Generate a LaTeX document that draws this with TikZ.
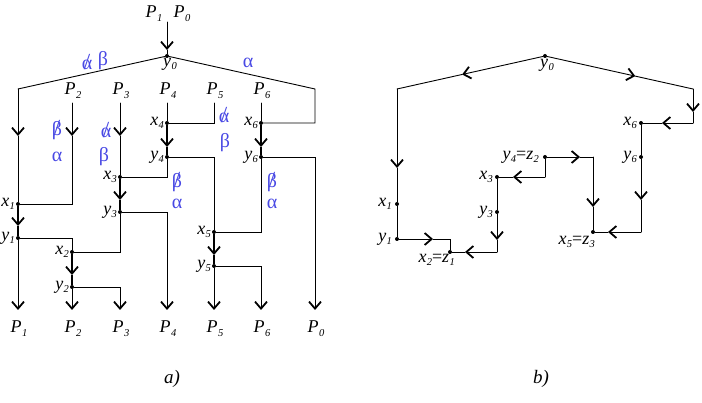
\documentclass[tikz,border=0pt]{standalone}
\usepackage{fontspec}
\setmainfont{Liberation Serif}
\usetikzlibrary{arrows.meta,calc}
\definecolor{greekblue}{RGB}{72,72,228}
\newsavebox\neggbox
\newcommand\lbl[2]{\textit{#1}\kern0.3pt\raisebox{-0.4ex}{\fontsize{10.5}{11}\selectfont\textit{#2}}}
\newcommand\negg[1]{\sbox\neggbox{#1}\rlap{\usebox\neggbox}\hbox to\wd\neggbox{\hss\raisebox{-0.05ex}{\fontsize{23}{23}\selectfont /}\hss}}
\begin{document}
\begin{tikzpicture}[x=1pt,y=-1pt,
  wire/.style={line width=0.9pt,line cap=round},
  boldwire/.style={line width=2.8pt},
  tipend/.style={-{Straight Barb[length=7pt,width=12pt,line width=1.8pt]}},
  lab/.style={font=\fontsize{18}{20}\selectfont, inner sep=0pt},
  gr/.style={text=greekblue, font=\fontsize{20}{22}\selectfont, inner sep=0pt},
  dot/.style={circle, fill, inner sep=0pt, minimum size=4pt},
  captxt/.style={font=\fontsize{19}{21}\selectfont\itshape, inner sep=0pt}
]
\useasboundingbox (0,0) rectangle (702,403);

% ---------------- part a ----------------
\node[dot] (y0a) at (167,56) {};
\node[dot] (x1a) at (18,204) {};
\node[dot] (y1a) at (18,238) {};
\node[dot] (x2a) at (72,252) {};
\node[dot] (y2a) at (72,287) {};
\node[dot] (x3a) at (120,177) {};
\node[dot] (y3a) at (120,212) {};
\node[dot] (x4a) at (167,123) {};
\node[dot] (y4a) at (167,157) {};
\node[dot] (x5a) at (214,232) {};
\node[dot] (y5a) at (214,266) {};
\node[dot] (x6a) at (261,123) {};
\node[dot] (y6a) at (261,157) {};
\coordinate (inA) at (167,22);
\coordinate (tipA) at (167,50);
\coordinate (LcA) at (18,89);
\coordinate (RcA) at (315,89);
\coordinate (t2) at (72,103);
\coordinate (t3) at (120,103);
\coordinate (t4) at (167,103);
\coordinate (t5) at (214,103);
\coordinate (t6) at (261,103);
\coordinate (m1) at (18,136);
\coordinate (m2) at (72,136);
\coordinate (m3) at (120,136);
\coordinate (m4) at (167,147);
\coordinate (m6) at (261,147);
\coordinate (m33) at (120,200);
\coordinate (m11) at (18,226);
\coordinate (m22) at (72,275);
\coordinate (m55) at (214,255);
\coordinate (b1) at (18,310);
\coordinate (b2) at (72,310);
\coordinate (b3) at (120,310);
\coordinate (b4) at (167,310);
\coordinate (b5) at (214,310);
\coordinate (b6) at (261,310);
\coordinate (b0) at (315,310);

\draw[wire,tipend] (inA) -- (tipA);
\draw[wire] (tipA) -- (y0a);
\draw[wire] (y0a) -- (LcA);
\draw[wire,tipend] (LcA) -- (m1);
\draw[wire] (m1) -- (x1a);
\draw[wire] (y0a) -- (RcA) -- (RcA |- x6a) -- (x6a);
\draw[wire,tipend] (t2) -- (m2);
\draw[wire] (m2) -- (t2 |- x1a) -- (x1a);
\draw[wire,tipend] (t3) -- (m3);
\draw[wire] (m3) -- (x3a);
\draw[wire] (t4) -- (x4a);
\draw[wire] (t5) -- (t5 |- x4a) -- (x4a);
\draw[wire] (t6) -- (x6a);

\draw[boldwire,tipend] (x4a) -- (m4); \draw[boldwire] (m4) -- (y4a);
\draw[boldwire,tipend] (x6a) -- (m6); \draw[boldwire] (m6) -- (y6a);
\draw[boldwire,tipend] (x3a) -- (m33); \draw[boldwire] (m33) -- (y3a);
\draw[boldwire,tipend] (x1a) -- (m11); \draw[boldwire] (m11) -- (y1a);
\draw[boldwire,tipend] (x2a) -- (m22); \draw[boldwire] (m22) -- (y2a);
\draw[boldwire,tipend] (x5a) -- (m55); \draw[boldwire] (m55) -- (y5a);

\draw[wire] (y4a) -- (x5a |- y4a) -- (x5a);
\draw[wire] (y4a) -- (y4a |- x3a) -- (x3a);
\draw[wire,tipend] (y6a) -- (RcA |- y6a) -- (b0);
\draw[wire] (y6a) -- (y6a |- x5a) -- (x5a);
\draw[wire,tipend] (y3a) -- (y4a |- y3a) -- (b4);
\draw[wire] (y3a) -- (y3a |- x2a) -- (x2a);
\draw[wire] (y1a) -- (x2a |- y1a) -- (x2a);
\draw[wire,tipend] (y1a) -- (b1);
\draw[wire,tipend] (y2a) -- (b2);
\draw[wire,tipend] (y2a) -- (b3 |- y2a) -- (b3);
\draw[wire,tipend] (y5a) -- (b5);
\draw[wire,tipend] (y5a) -- (b6 |- y5a) -- (b6);

% labels a
\node[lab,anchor=base] (lP1t) at (154,18) {\lbl{P}{1}};
\node[lab,anchor=base] (lP0t) at (182,18) {\lbl{P}{0}};
\node[lab,anchor=mid] (ly0a) at (170,64) {\lbl{y}{0}};
\node[lab,anchor=base] (lP2t) at (73,95) {\lbl{P}{2}};
\node[lab,anchor=base] (lP3t) at (121,95) {\lbl{P}{3}};
\node[lab,anchor=base] (lP4t) at (168,95) {\lbl{P}{4}};
\node[lab,anchor=base] (lP5t) at (215,95) {\lbl{P}{5}};
\node[lab,anchor=base] (lP6t) at (262,95) {\lbl{P}{6}};
\node[lab,anchor=base] (lP1b) at (19,333) {\lbl{P}{1}};
\node[lab,anchor=base] (lP2b) at (73,333) {\lbl{P}{2}};
\node[lab,anchor=base] (lP3b) at (121,333) {\lbl{P}{3}};
\node[lab,anchor=base] (lP4b) at (168,333) {\lbl{P}{4}};
\node[lab,anchor=base] (lP5b) at (215,333) {\lbl{P}{5}};
\node[lab,anchor=base] (lP6b) at (262,333) {\lbl{P}{6}};
\node[lab,anchor=base] (lP0b) at (316,333) {\lbl{P}{0}};
\node[lab,anchor=mid east] (lx1a) at ([xshift=-3pt]x1a.center) {\lbl{x}{1}};
\node[lab,anchor=mid east] (ly1a) at ([xshift=-3pt]y1a.center) {\lbl{y}{1}};
\node[lab,anchor=mid east] (lx2a) at ([xshift=-3pt]x2a.center) {\lbl{x}{2}};
\node[lab,anchor=mid east] (ly2a) at ([xshift=-3pt]y2a.center) {\lbl{y}{2}};
\node[lab,anchor=mid east] (lx3a) at ([xshift=-3pt]x3a.center) {\lbl{x}{3}};
\node[lab,anchor=mid east] (ly3a) at ([xshift=-3pt]y3a.center) {\lbl{y}{3}};
\node[lab,anchor=mid east] (lx4a) at ([xshift=-3pt]x4a.center) {\lbl{x}{4}};
\node[lab,anchor=mid east] (ly4a) at ([xshift=-3pt]y4a.center) {\lbl{y}{4}};
\node[lab,anchor=mid east] (lx5a) at ([xshift=-3pt]x5a.center) {\lbl{x}{5}};
\node[lab,anchor=mid east] (ly5a) at ([xshift=-3pt]y5a.center) {\lbl{y}{5}};
\node[lab,anchor=mid east] (lx6a) at ([xshift=-3pt]x6a.center) {\lbl{x}{6}};
\node[lab,anchor=mid east] (ly6a) at ([xshift=-3pt]y6a.center) {\lbl{y}{6}};

\node[gr] (g1) at (87,62) {\negg{α}};
\node[gr] (g2) at (103,61) {β};
\node[gr] (g3) at (248,63) {α};
\node[gr] (g4) at (57,130) {\negg{β}};
\node[gr] (g5) at (57,157) {α};
\node[gr] (g6) at (106,130) {\negg{α}};
\node[gr] (g7) at (104,157) {β};
\node[gr] (g8) at (224,115) {\negg{α}};
\node[gr] (g9) at (225,143) {β};
\node[gr] (g10) at (177,182) {\negg{β}};
\node[gr] (g11) at (177,204) {α};
\node[gr] (g12) at (272,182) {\negg{β}};
\node[gr] (g13) at (272,204) {α};

% ---------------- part b ----------------
\node[dot] (y0b) at (545,56) {};
\coordinate (Lb) at (397,89);
\coordinate (Rb) at (693,89);
\coordinate (rb1) at (693,123);
\node[dot] (x6b) at (641,123) {};
\node[dot] (y6b) at (641,157) {};
\coordinate (cb1) at (641,232);
\node[dot] (x5b) at (593,232) {};
\coordinate (cb2) at (593,157);
\node[dot] (y4b) at (545,157) {};
\coordinate (cb3) at (545,177);
\node[dot] (x3b) at (497,177) {};
\node[dot] (y3b) at (497,212) {};
\coordinate (cb4) at (497,252);
\node[dot] (x2b) at (450,252) {};
\coordinate (cb5) at (450,239);
\node[dot] (y1b) at (397,239) {};
\node[dot] (x1b) at (397,204) {};

\coordinate (n1) at ($(545,56)!0.56!(Lb)$);
\coordinate (n2) at ($(545,56)!0.61!(Rb)$);
\coordinate (n3) at (693,112);
\coordinate (n4) at (662,123);
\coordinate (n5) at (641,200);
\coordinate (n6) at (608,232);
\coordinate (n7) at (580,157);
\coordinate (n8) at (593,207);
\coordinate (n9) at (513,177);
\coordinate (n10) at (497,240);
\coordinate (n11) at (465,252);
\coordinate (n12) at (433,239);
\coordinate (n13) at (397,168);

\draw[wire,tipend] (y0b) -- (n1); \draw[wire] (n1) -- (Lb);
\draw[wire,tipend] (Lb) -- (n13); \draw[wire] (n13) -- (x1b);
\draw[wire] (x1b) -- (y1b);
\draw[wire,tipend] (y1b) -- (n12); \draw[wire] (n12) -- (cb5) -- (x2b);
\draw[wire,tipend] (y0b) -- (n2); \draw[wire] (n2) -- (Rb);
\draw[wire,tipend] (Rb) -- (n3); \draw[wire] (n3) -- (rb1);
\draw[wire,tipend] (rb1) -- (n4); \draw[wire] (n4) -- (x6b);
\draw[wire] (x6b) -- (y6b);
\draw[wire,tipend] (y6b) -- (n5); \draw[wire] (n5) -- (cb1);
\draw[wire,tipend] (cb1) -- (n6); \draw[wire] (n6) -- (x5b);
\draw[wire,tipend] (y4b) -- (n7); \draw[wire] (n7) -- (cb2);
\draw[wire,tipend] (cb2) -- (n8); \draw[wire] (n8) -- (x5b);
\draw[wire] (y4b) -- (cb3);
\draw[wire,tipend] (cb3) -- (n9); \draw[wire] (n9) -- (x3b);
\draw[wire] (x3b) -- (y3b);
\draw[wire,tipend] (y3b) -- (n10); \draw[wire] (n10) -- (cb4);
\draw[wire,tipend] (cb4) -- (n11); \draw[wire] (n11) -- (x2b);

% labels b
\node[lab,anchor=mid] (ly0b) at (547,65) {\lbl{y}{0}};
\node[lab,anchor=mid east] (lx6b) at ([xshift=-4pt]x6b.center) {\lbl{x}{6}};
\node[lab,anchor=mid east] (ly6b) at ([xshift=-4pt]y6b.center) {\lbl{y}{6}};
\node[lab,anchor=mid east] (ly4b) at ([xshift=-6pt]y4b.center) {\lbl{y}{4}=\lbl{z}{2}};
\node[lab,anchor=mid east] (lx3b) at ([xshift=-4pt]x3b.center) {\lbl{x}{3}};
\node[lab,anchor=mid east] (ly3b) at ([xshift=-4pt]y3b.center) {\lbl{y}{3}};
\node[lab,anchor=mid east] (lx1b) at ([xshift=-5pt]x1b.center) {\lbl{x}{1}};
\node[lab,anchor=mid east] (ly1b) at ([xshift=-5pt]y1b.center) {\lbl{y}{1}};
\node[lab,anchor=mid east] (lx2b) at (455,260) {\lbl{x}{2}=\lbl{z}{1}};
\node[lab,anchor=mid east] (lx5b) at (595,242) {\lbl{x}{5}=\lbl{z}{3}};

\node[captxt] (capa) at (172,379) {a)};
\node[captxt] (capb) at (541,379) {b)};
\end{tikzpicture}
\end{document}
